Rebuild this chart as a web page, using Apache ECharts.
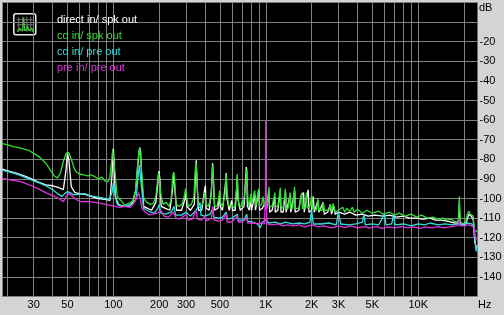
<!DOCTYPE html>
<html><head><meta charset="utf-8">
<script src="https://cdn.jsdelivr.net/npm/echarts@6/dist/echarts.min.js"></script>
<style>html,body{margin:0;padding:0;background:#d4d4d4}#c{width:504px;height:315px}</style>
</head><body><div id="c"></div>
<script>
const seriesNames = ['direct in/ spk out', 'cd in/ spk out', 'cd in/ pre out', 'pre in/ pre out'];
const seriesColors = ['#ffffff', '#33dd33', '#33dddd', '#dd33dd'];
const xRange = [18.6, 24500];
const xGridFreqs = [18.6, 20, 30, 40, 50, 60, 70, 80, 90, 100, 200, 300, 400, 500, 600, 700, 800, 900, 1000, 2000, 3000, 4000, 5000, 6000, 7000, 8000, 9000, 10000, 20000];
const xLabelFreqs = [30, 50, 100, 200, 300, 500, 1000, 2000, 3000, 5000, 10000];
const yRange = [-150, 0];
const yHiddenLabels = [0, -10, -150];

const directSpk = [[18.6,-85],[20,-85.8],[23,-87],[26,-88.5],[29,-90],[32,-91.5],[36,-93],[40,-93.5],[44,-94.5],[47,-95.5],[49,-85],[50,-77],[51,-80],[53,-94],[56,-97],[60,-97.5],[66,-98],[72,-99],[80,-100],[88,-100.5],[95,-101],[98,-88],[100,-74.5],[101,-80],[103,-99],[108,-103],[116,-104],[126,-104],[134,-102],[140,-96],[145,-82],[149,-74],[151,-76],[154,-92],[158,-104],[168,-105],[178,-106],[190,-102],[196,-92],[199,-86],[202,-90],[206,-104],[220,-105],[235,-106],[244,-96],[249,-87],[253,-95],[260,-106],[280,-106],[296,-100],[300,-97],[304,-104],[320,-106],[340,-103],[347,-84],[350,-80.5],[353,-90],[362,-106],[380,-106],[398,-95],[402,-93.5],[406,-105],[425,-106],[440,-96],[448,-82],[452,-88],[462,-106],[485,-105],[497,-99],[503,-104],[520,-106],[545,-92],[551,-87],[556,-100],[575,-106],[598,-101],[604,-106],[630,-106],[647,-93],[651,-88.5],[656,-100],[680,-106],[720,-104],[745,-84],[751,-86],[758,-104],[780,-106],[797,-100],[806,-106],[830,-106],[848,-98],[856,-106],[880,-105],[902,-96],[910,-106],[950,-105],[990,-102],[1010,-106],[1050,-96],[1060,-107],[1100,-106],[1148,-99],[1155,-107],[1200,-106],[1248,-96],[1258,-107],[1300,-107],[1350,-97],[1360,-107],[1450,-98],[1460,-107],[1550,-96],[1560,-107],[1650,-106],[1700,-99],[1770,-97],[1790,-107],[1850,-100],[1900,-95.5],[1920,-107],[2000,-106],[2050,-99],[2080,-107],[2200,-101],[2230,-107],[2380,-102],[2420,-108],[2550,-107],[2650,-103],[2700,-108],[2800,-104],[2850,-108],[3000,-107],[3300,-108],[3560,-107],[3900,-108.5],[4300,-108],[4700,-109],[5200,-108.5],[5900,-109],[6500,-108.5],[7200,-109.5],[8000,-109],[8800,-110],[9800,-110],[10800,-110.5],[12000,-110],[13000,-111],[14200,-111],[15400,-111.5],[16500,-112],[17500,-112.5],[18300,-112.5],[18600,-104],[18900,-113],[19800,-113.5],[20500,-113],[21500,-108],[22300,-109],[23000,-111],[23500,-122],[24000,-125],[24500,-124]];

const cdSpk = [[18.6,-72],[20,-72.5],[22,-73.5],[24,-74],[26,-74.8],[28,-75.5],[30,-77],[33,-79],[36,-82],[39,-86],[41,-88.5],[43,-89.5],[45,-87],[47,-81],[49,-77],[50,-76],[51,-76.5],[53,-80],[55,-84],[57,-86.5],[60,-87.5],[64,-88],[68,-88.5],[72,-88],[76,-89],[80,-90],[84,-89],[88,-91],[92,-91.5],[95,-89],[97,-83],[99,-75],[100,-74.5],[101,-76],[103,-88],[106,-99],[112,-101],[119,-103.5],[126,-102.5],[134,-101.5],[140,-96],[144,-84],[147,-76],[149,-74],[151,-75],[154,-88],[158,-100],[166,-102],[175,-103],[183,-102.5],[190,-99],[195,-91],[198,-87],[201,-88],[205,-98],[212,-103],[222,-102],[232,-104],[240,-100],[246,-88],[249,-86.5],[252,-90],[258,-103],[270,-104],[282,-103],[292,-99],[298,-95],[302,-99],[310,-104],[325,-103],[338,-99],[346,-84],[349,-81.5],[352,-86],[360,-104],[375,-105],[390,-101],[398,-97],[404,-103],[420,-104],[438,-99],[446,-85],[449,-83],[452,-88],[462,-104],[480,-104],[492,-99],[498,-96],[503,-102],[520,-104],[540,-98],[548,-87],[551,-86.5],[555,-95],[570,-104],[590,-103],[598,-102],[603,-104],[625,-105],[643,-95],[649,-87.5],[653,-92],[665,-104],[690,-104],[700,-101],[710,-104],[740,-92],[748,-85],[753,-92],[770,-104],[790,-101],[799,-97.5],[806,-103],[830,-104],[846,-96],[852,-96.5],[860,-104],[880,-103],[897,-95],[903,-94.5],[910,-104],[940,-103],[960,-99],[980,-104],[1000,-100],[1020,-104],[1045,-104],[1050,-94],[1055,-104],[1100,-104],[1148,-97],[1152,-104],[1200,-104],[1246,-94.5],[1254,-104],[1300,-105],[1345,-95],[1355,-105],[1400,-105],[1445,-97],[1455,-105],[1500,-105],[1545,-94],[1555,-105],[1650,-105],[1720,-97],[1740,-105],[1800,-105],[1850,-97],[1870,-105],[1950,-104],[2000,-98.5],[2030,-105],[2150,-106],[2200,-100],[2230,-106],[2350,-106],[2380,-102],[2420,-106],[2600,-106],[2650,-103],[2700,-106.5],[2770,-102.5],[2850,-107],[3000,-106],[3200,-104.5],[3300,-107],[3400,-105],[3560,-106.5],[3700,-104.5],[3800,-107],[4000,-105.5],[4300,-107.5],[4600,-106],[5000,-107.5],[5500,-106.5],[5900,-108],[6500,-107],[7000,-108.5],[7500,-107.5],[8200,-109],[9000,-108],[9800,-109.5],[10500,-108.5],[11500,-110],[12500,-109.5],[13500,-110.5],[14500,-110],[15400,-111],[16500,-110.5],[17500,-112],[18300,-112],[18600,-99],[18900,-112],[19800,-113],[20500,-112],[21000,-108],[21500,-106.5],[22000,-108],[22500,-107.5],[23000,-109],[23300,-116],[24500,-117]];

const cdPre = [[18.6,-85.5],[21,-86.5],[24,-88],[27,-89.5],[30,-91],[33,-92.2],[37,-94],[40,-95.5],[43,-97.5],[46,-99],[48,-97.5],[50,-96.5],[52,-97],[55,-98.2],[60,-97.8],[65,-97.5],[70,-98.5],[76,-99],[82,-99.5],[88,-100],[94,-100.5],[98,-97],[100,-92],[102,-97],[106,-103],[114,-104],[124,-103.5],[134,-103],[141,-100],[145,-90],[148,-83],[151,-84],[154,-96],[158,-105],[166,-106],[176,-107],[186,-107.5],[196,-105],[200,-103],[205,-107.5],[220,-108],[240,-107],[250,-104],[256,-108.5],[280,-108.5],[300,-107],[320,-109],[350,-106],[370,-102],[376,-108.5],[400,-109],[430,-108],[450,-105],[455,-109.5],[490,-110],[520,-109.5],[550,-107],[560,-110.5],[600,-110],[650,-108],[660,-111],[720,-111],[750,-108],[760,-111.5],[820,-112],[880,-113],[920,-115],[950,-112],[1000,-111],[1050,-112.5],[1150,-112],[1250,-113],[1350,-112],[1500,-113],[1650,-112.5],[1800,-113],[1950,-112],[2000,-106],[2050,-113],[2300,-113],[2600,-112.5],[2900,-113.5],[3000,-107],[3100,-113],[3500,-113.5],[3900,-113],[4300,-112],[4400,-108],[4500,-113.5],[5000,-113],[5500,-113.5],[6000,-108],[6150,-113.5],[6700,-113],[6900,-108.5],[7050,-113.5],[8000,-113],[9000,-114],[10000,-113],[11000,-113.5],[12000,-112.5],[13500,-113.5],[15000,-113],[16500,-113.5],[18000,-113],[19500,-113.5],[21000,-112.5],[22500,-113],[23200,-114],[23600,-121],[24000,-127],[24500,-124]];

const prePre = [[18.6,-89.7],[21,-90.5],[25,-91.5],[29,-93.5],[32,-95],[36,-97],[40,-98.5],[44,-100],[47,-101.6],[49,-99],[51,-97.3],[54,-99],[57,-100.5],[61,-101.6],[68,-101.5],[75,-102],[83,-102.5],[92,-103.3],[100,-103.8],[110,-104.5],[120,-104],[130,-104.5],[140,-101],[146,-97],[150,-100],[154,-105],[162,-107],[172,-108.4],[182,-108],[195,-107.5],[205,-106],[215,-109],[230,-109.5],[248,-107],[258,-110],[275,-110.5],[300,-108],[310,-111],[330,-110.5],[350,-106],[356,-110.5],[380,-111],[400,-109],[410,-111.5],[440,-110],[450,-104],[458,-111],[490,-111.5],[520,-111],[550,-108],[558,-112],[600,-112],[650,-109],[660,-112],[700,-112],[750,-110],[760,-112.5],[820,-112.5],[880,-113],[940,-112.5],[980,-113],[995,-100],[1000,-60],[1005,-100],[1020,-113],[1100,-113.5],[1200,-113],[1300,-114],[1400,-113.5],[1500,-114],[1650,-113.5],[1800,-114.5],[2000,-113.5],[2200,-114.5],[2400,-114],[2700,-115],[3000,-114],[3300,-114.8],[3600,-114],[4000,-115],[4400,-114.3],[4800,-115],[5300,-114.3],[5800,-115.2],[6400,-114.5],[7000,-115],[7700,-114.3],[8500,-115],[9300,-114.5],[10200,-115.2],[11200,-114.5],[12300,-115],[13500,-114.3],[14800,-115],[16200,-114.5],[17600,-114],[18400,-113.5],[18600,-110],[18800,-114],[20000,-114],[21500,-113.5],[22500,-114],[23300,-115],[23800,-121],[24500,-120]];

const seriesData = [directSpk, cdSpk, cdPre, prePre];
const lg = Math.log10;
const FONT = 'Liberation Sans, Arial, sans-serif';

const chart = echarts.init(document.getElementById('c'), null, {renderer: 'canvas'});
chart.setOption({
  animation: false,
  backgroundColor: '#d4d4d4',
  textStyle: {fontFamily: FONT},
  grid: {left: 2, right: 26.5, top: 2.5, bottom: 18.5, backgroundColor: '#000', show: true, borderWidth: 0, outerBoundsMode: 'none'},
  legend: {
    orient: 'vertical', left: 47, top: 9, itemWidth: 0, itemHeight: 12, itemGap: 4,
    selectedMode: false, icon: 'rect',
    textStyle: {fontSize: 11, fontFamily: FONT},
    data: seriesNames.map((n, i) => ({name: n, textStyle: {color: seriesColors[i]}}))
  },
  xAxis: {
    type: 'value', min: lg(xRange[0]), max: lg(xRange[1]),
    axisLine: {show: false},
    axisTick: {show: false, customValues: xGridFreqs.map(lg)},
    splitLine: {show: true, lineStyle: {color: '#808080', width: 1}},
    axisLabel: {
      customValues: xLabelFreqs.map(lg), fontSize: 11, color: '#000', margin: 3, fontFamily: FONT,
      formatter: v => { const f = Math.round(Math.pow(10, v)); return f >= 1000 ? (f / 1000) + 'K' : String(f); }
    }
  },
  yAxis: {
    type: 'value', position: 'right', min: yRange[0], max: yRange[1], interval: 10,
    axisLine: {show: false}, axisTick: {show: false},
    splitLine: {show: true, lineStyle: {color: '#808080', width: 1}},
    axisLabel: {fontSize: 11, color: '#000', margin: 2, fontFamily: FONT,
      formatter: v => yHiddenLabels.indexOf(v) >= 0 ? '' : String(v)}
  },
  graphic: [
    {type: 'text', left: 479, top: 2, style: {text: 'dB', fontSize: 11, fill: '#000', font: '11px ' + FONT}},
    {type: 'text', left: 478, top: 299, style: {text: 'Hz', fontSize: 11, fill: '#000', font: '11px ' + FONT}},
    {type: 'group', left: 13, top: 13, children: [
      {type: 'rect', shape: {x: 0, y: 0, width: 22, height: 21, r: 2}, style: {fill: '#000', stroke: '#e8e8e8', lineWidth: 1.5}},
      {type: 'polyline', shape: {points: [[5,3],[5,18]]}, style: {stroke: '#777', lineWidth: 1}},
      {type: 'polyline', shape: {points: [[9,3],[9,18]]}, style: {stroke: '#777', lineWidth: 1}},
      {type: 'polyline', shape: {points: [[13,3],[13,18]]}, style: {stroke: '#777', lineWidth: 1}},
      {type: 'polyline', shape: {points: [[17,3],[17,18]]}, style: {stroke: '#777', lineWidth: 1}},
      {type: 'polyline', shape: {points: [[3,6],[19,6]]}, style: {stroke: '#777', lineWidth: 1}},
      {type: 'polyline', shape: {points: [[3,11],[19,11]]}, style: {stroke: '#777', lineWidth: 1}},
      {type: 'polyline', shape: {points: [[3,16],[19,16]]}, style: {stroke: '#777', lineWidth: 1}},
      {type: 'polyline', shape: {points: [[3,18],[5,17],[6,14],[7,17],[9,16],[10,4],[11,17],[13,16],[14,12],[15,17],[17,16],[18,14],[19,18]]}, style: {stroke: '#33dd33', lineWidth: 1, fill: null}}
    ]}
  ],
  series: seriesData.map((d, i) => ({
    name: seriesNames[i], type: 'line', symbol: 'none', showSymbol: false,
    lineStyle: {color: seriesColors[i], width: 1.3}, itemStyle: {color: seriesColors[i]},
    data: d.map(p => [lg(p[0]), p[1]])
  }))
});
</script></body></html>
